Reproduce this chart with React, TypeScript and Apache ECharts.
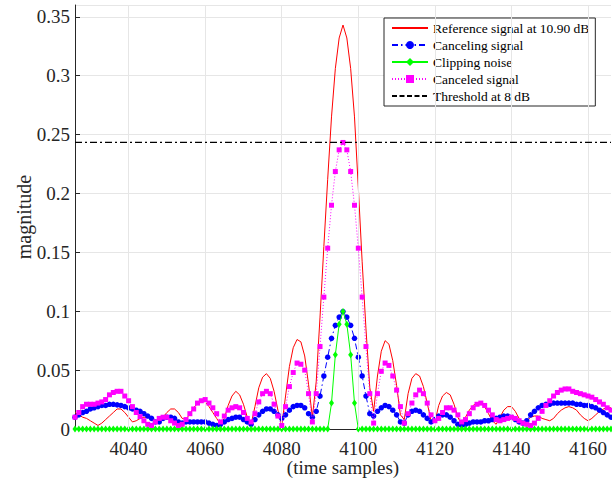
import React, { useEffect, useRef } from "react";
import * as echarts from "echarts";

const sampleStart = 4026;
const sampleEnd = 4166;
const xTicks = [4040, 4060, 4080, 4100, 4120, 4140, 4160];

const referenceSignal = [
  0.014, 0.012, 0.010, 0.009, 0.007, 0.005, 0.003, 0.005, 0.008, 0.011,
  0.014, 0.017, 0.017, 0.014, 0.010, 0.006, 0.007, 0.009, 0.010, 0.010,
  0.009, 0.007, 0.006, 0.010, 0.014, 0.017, 0.017, 0.014, 0.009, 0.008,
  0.013, 0.018, 0.022, 0.024, 0.023, 0.019, 0.014, 0.009, 0.004, 0.009,
  0.020, 0.028, 0.032, 0.029, 0.021, 0.010, 0.004, 0.019, 0.035, 0.044,
  0.047, 0.043, 0.032, 0.016, 0.003, 0.028, 0.053, 0.069, 0.076, 0.074,
  0.062, 0.038, 0.010, 0.040, 0.095, 0.155, 0.212, 0.265, 0.306, 0.332,
  0.343, 0.332, 0.306, 0.265, 0.205, 0.142, 0.085, 0.035, 0.015, 0.045,
  0.066, 0.075, 0.072, 0.058, 0.037, 0.012, 0.008, 0.030, 0.043, 0.047,
  0.045, 0.036, 0.022, 0.007, 0.006, 0.020, 0.028, 0.031, 0.029, 0.021,
  0.010, 0.004, 0.010, 0.016, 0.020, 0.022, 0.022, 0.019, 0.013, 0.007,
  0.004, 0.010, 0.016, 0.019, 0.019, 0.015, 0.009, 0.005, 0.007, 0.010,
  0.011, 0.011, 0.009, 0.008, 0.007, 0.009, 0.013, 0.016, 0.018, 0.019,
  0.018, 0.016, 0.012, 0.009, 0.007, 0.009, 0.012, 0.015, 0.017, 0.018,
  0.018,
];

const cancelingSignal = [
  0.010, 0.012, 0.014, 0.015, 0.017, 0.018, 0.019, 0.020, 0.020, 0.021,
  0.021, 0.0205, 0.020, 0.019, 0.018, 0.017, 0.016, 0.015, 0.013, 0.011,
  0.009, 0.006, 0.006, 0.009, 0.010, 0.010, 0.009, 0.006, 0.005, 0.006,
  0.006, 0.006, 0.006, 0.006, 0.006, 0.005, 0.004, 0.003, 0.004, 0.006,
  0.008, 0.009, 0.010, 0.010, 0.008, 0.006, 0.004, 0.008, 0.012, 0.015,
  0.017, 0.017, 0.015, 0.012, 0.009, 0.012, 0.016, 0.019, 0.020, 0.020,
  0.018, 0.013, 0.010, 0.015, 0.028, 0.045, 0.061, 0.077, 0.088, 0.095,
  0.0997, 0.095, 0.088, 0.077, 0.061, 0.045, 0.028, 0.013, 0.011, 0.015,
  0.018, 0.020, 0.019, 0.016, 0.012, 0.006, 0.005, 0.012, 0.015, 0.016,
  0.015, 0.012, 0.009, 0.006, 0.008, 0.011, 0.012, 0.012, 0.010, 0.007,
  0.004, 0.003, 0.004, 0.005, 0.006, 0.006, 0.006, 0.007, 0.007, 0.008,
  0.009, 0.010, 0.011, 0.011, 0.010, 0.008, 0.006, 0.005, 0.007, 0.012,
  0.015, 0.018, 0.020, 0.021, 0.021, 0.022, 0.022, 0.022, 0.022, 0.022,
  0.022, 0.021, 0.021, 0.020, 0.020, 0.019, 0.018, 0.016, 0.014, 0.012,
  0.010,
];

const clippingNoise = [
  0, 0, 0, 0, 0, 0, 0, 0, 0, 0,
  0, 0, 0, 0, 0, 0, 0, 0, 0, 0,
  0, 0, 0, 0, 0, 0, 0, 0, 0, 0,
  0, 0, 0, 0, 0, 0, 0, 0, 0, 0,
  0, 0, 0, 0, 0, 0, 0, 0, 0, 0,
  0, 0, 0, 0, 0, 0, 0, 0, 0, 0,
  0, 0, 0, 0, 0, 0, 0, 0.022, 0.063, 0.089,
  0.0997, 0.089, 0.063, 0.022, 0, 0, 0, 0, 0, 0,
  0, 0, 0, 0, 0, 0, 0, 0, 0, 0,
  0, 0, 0, 0, 0, 0, 0, 0, 0, 0,
  0, 0, 0, 0, 0, 0, 0, 0, 0, 0,
  0, 0, 0, 0, 0, 0, 0, 0, 0, 0,
  0, 0, 0, 0, 0, 0, 0, 0, 0, 0,
  0, 0, 0, 0, 0, 0, 0, 0, 0, 0,
  0,
];

const canceledSignal = [
  0.010, 0.014, 0.019, 0.021, 0.021, 0.021, 0.022, 0.023, 0.025, 0.029,
  0.031, 0.032, 0.032, 0.028, 0.024, 0.019, 0.014, 0.0105, 0.007, 0.004,
  0.003, 0.006, 0.009, 0.010, 0.010, 0.007, 0.005, 0.003, 0.004, 0.008,
  0.013, 0.017, 0.022, 0.024, 0.025, 0.022, 0.018, 0.013, 0.006, 0.011,
  0.016, 0.018, 0.019, 0.018, 0.014, 0.009, 0.006, 0.013, 0.023, 0.030,
  0.032, 0.030, 0.021, 0.011, 0.003, 0.019, 0.036, 0.048, 0.056, 0.055,
  0.050, 0.030, 0.006, 0.030, 0.070, 0.112, 0.1535, 0.190, 0.2186, 0.237,
  0.2433, 0.237, 0.2186, 0.190, 0.1535, 0.112, 0.070, 0.030, 0.005, 0.030,
  0.049, 0.056, 0.054, 0.045, 0.033, 0.019, 0.005, 0.013, 0.022, 0.029,
  0.033, 0.030, 0.022, 0.012, 0.007, 0.009, 0.014, 0.018, 0.018, 0.016,
  0.012, 0.006, 0.008, 0.013, 0.018, 0.021, 0.022, 0.020, 0.016, 0.012,
  0.008, 0.007, 0.008, 0.009, 0.010, 0.009, 0.007, 0.005, 0.004, 0.003,
  0.005, 0.009, 0.015, 0.020, 0.024, 0.028, 0.031, 0.033, 0.034, 0.034,
  0.032, 0.031, 0.030, 0.029, 0.028, 0.027, 0.025, 0.023, 0.021, 0.018,
  0.016,
];

const thresholdValue = 0.2433;

const legendNames = [
  "Reference signal at 10.90 dB",
  "Canceling signal",
  "Clipping noise",
  "Canceled signal",
  "Threshold at 8 dB",
];

const FONT = "Liberation Serif";

function pair(values: number[]) {
  return values.map((v, i) => [sampleStart + i, v]);
}

export default function App() {
  const ref = useRef<HTMLDivElement>(null);
  useEffect(() => {
    if (!ref.current) return;
    const chart = echarts.init(ref.current, undefined, { renderer: "svg" });
    const noSymbol = { color: "rgba(0,0,0,0)", borderWidth: 0, opacity: 0 };
    chart.setOption({
      animation: false,
      backgroundColor: "#ffffff",
      textStyle: { fontFamily: FONT },
      grid: {
        left: 75,
        right: 1,
        top: 5,
        bottom: 52,
        containLabel: false,
        outerBoundsMode: "none",
      },
      legend: {
        data: [
          { name: legendNames[0], itemStyle: noSymbol },
          { name: legendNames[1] },
          { name: legendNames[2] },
          { name: legendNames[3] },
          { name: legendNames[4], itemStyle: noSymbol, lineStyle: { type: [5, 2.5] } },
        ],
        orient: "vertical",
        left: 384,
        top: 18,
        backgroundColor: "#ffffff",
        borderColor: "#262626",
        borderWidth: 1,
        borderRadius: 0,
        padding: [3, 6, 3, 7],
        itemWidth: 36,
        itemHeight: 10,
        itemGap: 3,
        selectedMode: false,
        textStyle: { fontFamily: FONT, fontSize: 13.5, color: "#000" },
      },
      xAxis: {
        type: "value",
        min: sampleStart,
        max: sampleEnd,
        name: "(time samples)",
        nameLocation: "middle",
        nameGap: 29,
        nameMoveOverlap: false,
        nameTextStyle: { fontFamily: FONT, fontSize: 19, color: "#262626" },
        axisLine: { show: true, onZero: false, lineStyle: { color: "#262626", width: 1 } },
        axisTick: { show: true, inside: true, length: 5, customValues: xTicks, lineStyle: { color: "#262626" } },
        axisLabel: {
          customValues: xTicks,
          fontFamily: FONT,
          fontSize: 19,
          color: "#262626",
          margin: 10,
          formatter: (v: number) => String(v),
        },
        splitLine: { show: false },
      },
      yAxis: {
        type: "value",
        min: 0,
        max: 0.36,
        interval: 0.05,
        name: "magnitude",
        nameLocation: "middle",
        nameGap: 41,
        nameMoveOverlap: false,
        nameRotate: 90,
        nameTextStyle: { fontFamily: FONT, fontSize: 20, color: "#262626" },
        axisLine: { show: true, lineStyle: { color: "#262626", width: 1 } },
        axisTick: { show: true, inside: true, length: 5, lineStyle: { color: "#262626" } },
        axisLabel: {
          fontFamily: FONT,
          fontSize: 19,
          color: "#262626",
          margin: 5,
          showMaxLabel: false,
          formatter: (v: number) => String(Math.round(v * 100) / 100),
        },
        splitLine: { show: true, lineStyle: { color: "#e6e6e6", width: 1 } },
      },
      series: [
        {
          name: "grid",
          type: "line",
          data: [],
          z: 1,
          silent: true,
          markLine: {
            silent: true,
            symbol: ["none", "none"],
            label: { show: false },
            lineStyle: { color: "#e6e6e6", type: "solid", width: 1 },
            data: xTicks.map((v) => ({ xAxis: v })),
          },
        },
        {
          name: legendNames[0],
          type: "line",
          data: pair(referenceSignal),
          showSymbol: false,
          symbol: "none",
          color: "#ff0000",
          lineStyle: { color: "#ff0000", width: 1 },
          z: 2,
        },
        {
          name: legendNames[1],
          type: "line",
          data: pair(cancelingSignal),
          symbol: "circle",
          symbolSize: 5.5,
          color: "#0000ff",
          itemStyle: { color: "#0000ff" },
          lineStyle: { color: "#0000ff", width: 1, type: [6, 3, 1.5, 3] },
          z: 3,
        },
        {
          name: legendNames[2],
          type: "line",
          data: pair(clippingNoise),
          symbol: "diamond",
          symbolSize: [5, 7],
          color: "#00ff00",
          itemStyle: { color: "#00ff00" },
          lineStyle: { color: "#00ff00", width: 1 },
          z: 4,
        },
        {
          name: legendNames[3],
          type: "line",
          data: pair(canceledSignal),
          symbol: "rect",
          symbolSize: 5,
          color: "#ff00ff",
          itemStyle: { color: "#ff00ff" },
          lineStyle: { color: "#ff00ff", width: 1, type: [1, 2] },
          z: 5,
        },
        {
          name: legendNames[4],
          type: "line",
          data: [
            [sampleStart, thresholdValue],
            [sampleEnd, thresholdValue],
          ],
          showSymbol: false,
          symbol: "none",
          color: "#000000",
          lineStyle: { color: "#000000", width: 1.3, type: [7, 3, 2, 3] },
          z: 6,
        },
      ],
    });
    return () => chart.dispose();
  }, []);
  return (
    <div
      ref={ref}
      style={{ position: "absolute", left: 0, top: 0, width: 612, height: 481 }}
    />
  );
}
